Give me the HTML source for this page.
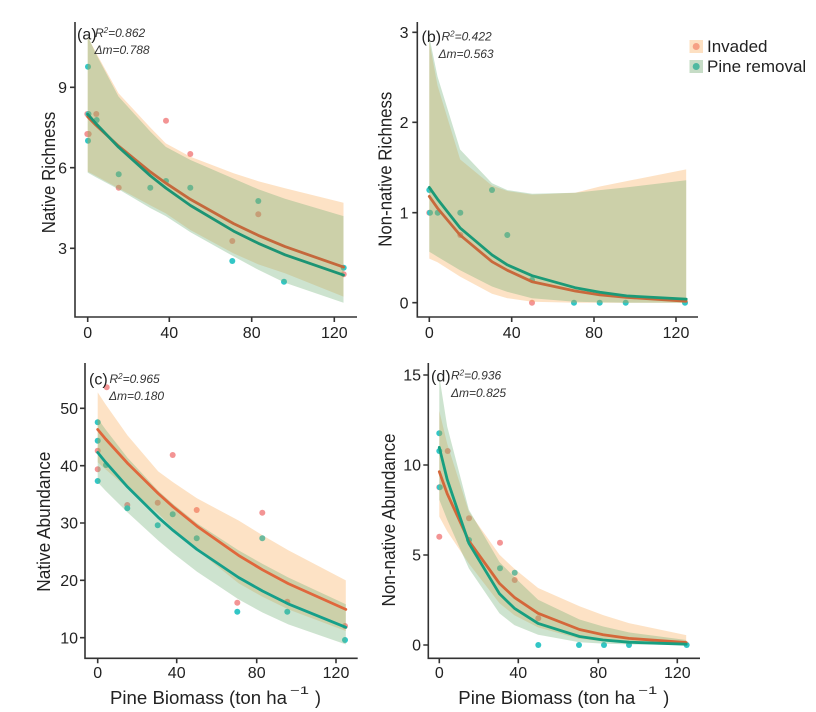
<!DOCTYPE html>
<html><head><meta charset="utf-8"><style>
html,body{margin:0;padding:0;background:#fff;}
svg{display:block;}
text{font-family:"Liberation Sans",Arial,sans-serif;fill:#222;}
.tk{font-size:16px;}
.it{font-size:12px;font-style:italic;fill:#333;}
.lab{font-size:16px;}
.ax{stroke:#333;stroke-width:1.6;fill:none;}
.pk{fill:rgb(248,158,63);fill-opacity:0.3;}
.gr{fill:rgb(109,174,114);fill-opacity:0.34;}
.r{fill:rgb(243,148,148);}
.c{fill:rgb(50,198,198);}
.lo{fill:none;stroke-width:2.8;stroke-linejoin:round;stroke-linecap:round;}
</style></head><body>
<svg width="816" height="712" viewBox="0 0 816 712" xmlns="http://www.w3.org/2000/svg">
<rect width="816" height="712" fill="#fff"/>

<!-- ===== Panel (a) ===== -->
<g>
<g>
<circle class="c" cx="88" cy="66.7" r="3"/>
<circle class="r" cx="87.3" cy="114" r="3"/>
<circle class="c" cx="88.5" cy="114" r="3"/>
<circle class="r" cx="96.3" cy="114" r="3"/>
<circle class="c" cx="96.7" cy="120" r="3"/>
<circle class="r" cx="87.3" cy="134" r="3"/>
<circle class="r" cx="88.7" cy="134" r="3"/>
<circle class="c" cx="88" cy="140.7" r="3"/>
<circle class="c" cx="118.7" cy="174.3" r="3"/>
<circle class="r" cx="118.7" cy="187.7" r="3"/>
<circle class="c" cx="150.3" cy="187.7" r="3"/>
<circle class="r" cx="166" cy="120.7" r="3"/>
<circle class="c" cx="166" cy="181" r="3"/>
<circle class="r" cx="190.3" cy="154" r="3"/>
<circle class="c" cx="190.3" cy="187.7" r="3"/>
<circle class="c" cx="258.3" cy="201" r="3"/>
<circle class="r" cx="258.3" cy="214.3" r="3"/>
<circle class="r" cx="232.3" cy="241" r="3"/>
<circle class="c" cx="232.3" cy="261" r="3"/>
<circle class="c" cx="284" cy="281.7" r="3"/>
<circle class="c" cx="343.7" cy="267.7" r="3"/>
<circle class="r" cx="343.7" cy="274.3" r="3"/>
</g>
<polygon class="pk" points="87.7,36.6 95.9,52.5 118.5,93.2 150.4,127.6 165.8,143.4 190.5,156.8 233.6,173.2 258.3,181.2 285.0,188.2 343.5,202.7 343.5,296.6 285.0,273.3 258.3,264.4 233.6,253.4 190.5,230.1 165.8,213.4 150.4,205.4 118.5,188.2 95.9,175.9 87.7,171.6"/>
<polygon class="gr" points="87.7,36.3 95.9,53.8 118.5,96.5 150.4,131.6 165.8,146.9 190.5,160.0 233.6,178.6 258.3,189.3 285.0,198.7 343.5,216.1 343.5,302.8 285.0,282.7 258.3,269.8 233.6,256.4 190.5,232.2 165.8,216.1 150.4,208.1 118.5,189.3 95.9,177.2 87.7,172.6"/>
<polyline class="lo" stroke="#c4683c" points="87.7,116.8 95.9,125.1 118.5,146.0 150.4,171.9 165.8,183.1 190.5,199.4 233.6,223.6 258.3,235.4 285.0,246.6 343.5,267.1"/>
<polyline class="lo" stroke="#1c9474" points="87.7,114.2 95.9,123.5 118.5,147.1 150.4,175.8 165.8,188.0 190.5,205.5 233.6,231.1 258.3,243.3 285.0,254.8 343.5,275.1"/>
<path class="ax" d="M75,22 V317 H357 M70,87.3 H75 M70,167.7 H75 M70,248.3 H75 M87.7,317 V322 M169.3,317 V322 M251.7,317 V322 M334.3,317 V322"/>
<text class="tk" x="67" y="93" text-anchor="end">9</text>
<text class="tk" x="67" y="173.4" text-anchor="end">6</text>
<text class="tk" x="67" y="254" text-anchor="end">3</text>
<text class="tk" x="87.7" y="338" text-anchor="middle">0</text>
<text class="tk" x="169.3" y="338" text-anchor="middle">40</text>
<text class="tk" x="251.7" y="338" text-anchor="middle">80</text>
<text class="tk" x="334.3" y="338" text-anchor="middle">120</text>
<text class="lab" x="77" y="39.5">(a)</text>
<text class="it" x="95" y="37">R<tspan font-size="8" dy="-4">2</tspan><tspan dy="4">=0.862</tspan></text>
<text class="it" x="94.5" y="54">Δm=0.788</text>
<text transform="translate(55,172.5) rotate(-90)" text-anchor="middle" font-size="18" textLength="121.6" lengthAdjust="spacingAndGlyphs">Native Richness</text>
</g>

<!-- ===== Panel (b) ===== -->
<g>
<g>
<circle class="c" cx="429.3" cy="190" r="3"/>
<circle class="r" cx="429.3" cy="212.7" r="3"/>
<circle class="c" cx="430" cy="212.7" r="3"/>
<circle class="c" cx="437.7" cy="212.7" r="3"/>
<circle class="c" cx="460.3" cy="212.7" r="3"/>
<circle class="c" cx="492" cy="190" r="3"/>
<circle class="c" cx="507.3" cy="235" r="3"/>
<circle class="r" cx="460.3" cy="235" r="3"/>
<circle class="c" cx="532" cy="280" r="3"/>
<circle class="r" cx="532" cy="302.7" r="3"/>
<circle class="c" cx="574" cy="302.7" r="3"/>
<circle class="c" cx="599.7" cy="302.7" r="3"/>
<circle class="c" cx="625.7" cy="302.7" r="3"/>
<circle class="c" cx="685" cy="302.7" r="3"/>
</g>
<polygon class="pk" points="429.3,41.4 437.5,85.5 460.1,159.4 492.0,185.6 507.4,191.0 532.1,194.6 575.2,192.8 599.9,186.5 626.6,181.1 686.2,169.4 686.2,302.7 626.6,302.7 599.9,302.7 575.2,302.7 532.1,301.8 507.4,298.2 492.0,293.7 460.1,276.6 437.5,262.2 429.3,258.6"/>
<polygon class="gr" points="429.3,36.9 437.5,76.5 460.1,149.5 492.0,183.3 507.4,190.1 532.1,193.7 575.2,192.8 599.9,190.1 626.6,187.4 686.2,180.2 686.2,302.7 626.6,302.7 599.9,302.2 575.2,301.8 532.1,298.2 507.4,291.9 492.0,286.5 460.1,270.3 437.5,256.7 429.3,251.7"/>
<polyline class="lo" stroke="#c8693c" points="429.3,196.4 437.5,208.1 460.1,235.1 492.0,261.7 507.4,270.3 532.1,281.7 575.2,291.0 599.9,294.9 626.6,297.3 686.2,301.2"/>
<polyline class="lo" stroke="#1b9a77" points="429.3,187.4 437.5,199.1 460.1,227.9 492.0,254.9 507.4,264.9 532.1,275.7 575.2,287.7 599.9,292.2 626.6,295.9 686.2,299.1"/>
<path class="ax" d="M417.3,22 V317 H698 M412.3,32.3 H417.3 M412.3,122.3 H417.3 M412.3,212.7 H417.3 M412.3,302.7 H417.3 M429.3,317 V322 M511.7,317 V322 M594,317 V322 M676,317 V322"/>
<text class="tk" x="408.5" y="38" text-anchor="end">3</text>
<text class="tk" x="408.5" y="128" text-anchor="end">2</text>
<text class="tk" x="408.5" y="218.4" text-anchor="end">1</text>
<text class="tk" x="408.5" y="308.4" text-anchor="end">0</text>
<text class="tk" x="429.3" y="338" text-anchor="middle">0</text>
<text class="tk" x="511.7" y="338" text-anchor="middle">40</text>
<text class="tk" x="594" y="338" text-anchor="middle">80</text>
<text class="tk" x="676" y="338" text-anchor="middle">120</text>
<text class="lab" x="421.5" y="42">(b)</text>
<text class="it" x="441.5" y="40.5">R<tspan font-size="8" dy="-4">2</tspan><tspan dy="4">=0.422</tspan></text>
<text class="it" x="438.5" y="58">Δm=0.563</text>
<text transform="translate(391.5,169.2) rotate(-90)" text-anchor="middle" font-size="18" textLength="155" lengthAdjust="spacingAndGlyphs">Non-native Richness</text>
</g>

<!-- Legend -->
<rect x="689.5" y="40" width="13.5" height="13" fill="#fde0c2"/>
<circle cx="696.2" cy="46.5" r="3.5" fill="#f6a084"/>
<rect x="689.5" y="60" width="13.5" height="13" fill="#c6dcc6"/>
<circle cx="696.2" cy="66.5" r="3.5" fill="#4fb8a0"/>
<text x="707" y="52" font-size="17">Invaded</text>
<text x="707" y="72" font-size="17">Pine removal</text>

<!-- ===== Panel (c) ===== -->
<g>
<g>
<circle class="r" cx="106.7" cy="387.3" r="3"/>
<circle class="c" cx="97.7" cy="422.3" r="3"/>
<circle class="c" cx="97.7" cy="440.7" r="3"/>
<circle class="r" cx="97.7" cy="450.7" r="3"/>
<circle class="r" cx="97.7" cy="469.3" r="3"/>
<circle class="c" cx="106" cy="465" r="3"/>
<circle class="c" cx="97.7" cy="481" r="3"/>
<circle class="r" cx="127.3" cy="505" r="3"/>
<circle class="c" cx="127.3" cy="508.3" r="3"/>
<circle class="r" cx="157.7" cy="502.7" r="3"/>
<circle class="c" cx="157.7" cy="525.3" r="3"/>
<circle class="r" cx="172.7" cy="455" r="3"/>
<circle class="c" cx="172.7" cy="514.3" r="3"/>
<circle class="r" cx="196.7" cy="510" r="3"/>
<circle class="c" cx="196.7" cy="538.3" r="3"/>
<circle class="r" cx="237.3" cy="602.7" r="3"/>
<circle class="c" cx="237.3" cy="611.7" r="3"/>
<circle class="r" cx="262.3" cy="512.7" r="3"/>
<circle class="c" cx="262.3" cy="538.3" r="3"/>
<circle class="r" cx="287.3" cy="601.7" r="3"/>
<circle class="c" cx="287.3" cy="611.7" r="3"/>
<circle class="r" cx="345" cy="626" r="3"/>
<circle class="c" cx="345" cy="640" r="3"/>
</g>
<polygon class="pk" points="97.7,392.4 105.6,404.4 127.5,435.4 158.2,471.4 173.1,482.3 196.9,498.3 238.6,520.5 262.5,535.3 288.3,550.3 345.8,580.4 345.8,631.0 288.3,609.4 262.5,596.8 238.6,583.3 196.9,550.1 173.1,528.4 158.2,513.5 127.5,488.1 105.6,469.4 97.7,462.2"/>
<polygon class="gr" points="97.7,418.5 105.6,429.5 127.5,457.7 158.2,490.7 173.1,504.0 196.9,523.2 238.6,550.4 262.5,563.9 288.3,577.5 345.8,604.2 345.8,644.4 288.3,624.4 262.5,612.5 238.6,599.4 196.9,571.6 173.1,553.1 158.2,540.5 127.5,512.4 105.6,490.8 97.7,482.2"/>
<polyline class="lo" stroke="#e0673c" points="97.7,429.5 105.6,439.0 127.5,463.2 158.2,493.5 173.1,506.8 196.9,526.1 238.6,555.4 262.5,569.8 288.3,583.6 345.8,609.4"/>
<polyline class="lo" stroke="#159f8a" points="97.7,452.5 105.6,462.2 127.5,486.9 158.2,517.3 173.1,530.4 196.9,549.4 238.6,577.5 262.5,591.0 288.3,603.9 345.8,627.3"/>
<path class="ax" d="M85,363 V658.3 H357.7 M80,408.3 H85 M80,465.7 H85 M80,523 H85 M80,580.3 H85 M80,637.7 H85 M97.7,658.3 V663.3 M176.7,658.3 V663.3 M256.7,658.3 V663.3 M336,658.3 V663.3"/>
<text class="tk" x="78" y="414" text-anchor="end">50</text>
<text class="tk" x="78" y="471.4" text-anchor="end">40</text>
<text class="tk" x="78" y="528.7" text-anchor="end">30</text>
<text class="tk" x="78" y="586" text-anchor="end">20</text>
<text class="tk" x="78" y="643.4" text-anchor="end">10</text>
<text class="tk" x="97.7" y="678" text-anchor="middle">0</text>
<text class="tk" x="176.7" y="678" text-anchor="middle">40</text>
<text class="tk" x="256.7" y="678" text-anchor="middle">80</text>
<text class="tk" x="336" y="678" text-anchor="middle">120</text>
<text class="lab" x="89" y="384.5">(c)</text>
<text class="it" x="109.5" y="383">R<tspan font-size="8" dy="-4">2</tspan><tspan dy="4">=0.965</tspan></text>
<text class="it" x="109" y="400">Δm=0.180</text>
<text transform="translate(50,521.7) rotate(-90)" text-anchor="middle" font-size="18" textLength="140" lengthAdjust="spacingAndGlyphs">Native Abundance</text>
<text x="110" y="704" font-size="18" textLength="177" lengthAdjust="spacingAndGlyphs">Pine Biomass (ton  ha</text>
<text x="290" y="694" font-size="11" textLength="19" lengthAdjust="spacingAndGlyphs">−1</text>
<text x="315" y="704" font-size="18">)</text>
</g>

<!-- ===== Panel (d) ===== -->
<g>
<g>
<circle class="c" cx="439.3" cy="433.3" r="3"/>
<circle class="c" cx="439.3" cy="451" r="3"/>
<circle class="r" cx="447.7" cy="451" r="3"/>
<circle class="r" cx="439.3" cy="487.3" r="3"/>
<circle class="c" cx="439.8" cy="487.3" r="3"/>
<circle class="r" cx="439.3" cy="536.7" r="3"/>
<circle class="r" cx="469" cy="518.3" r="3"/>
<circle class="c" cx="469" cy="540" r="3"/>
<circle class="r" cx="500" cy="542.7" r="3"/>
<circle class="c" cx="500" cy="568.3" r="3"/>
<circle class="c" cx="514.7" cy="572.7" r="3"/>
<circle class="r" cx="514.7" cy="580" r="3"/>
<circle class="r" cx="538.3" cy="618.3" r="3"/>
<circle class="c" cx="538.3" cy="645" r="3"/>
<circle class="c" cx="579" cy="645" r="3"/>
<circle class="c" cx="604" cy="645" r="3"/>
<circle class="c" cx="629" cy="645" r="3"/>
<circle class="c" cx="686.7" cy="645" r="3"/>
</g>
<polygon class="pk" points="439.3,411.0 447.2,443.8 468.9,511.8 499.5,554.7 514.4,568.8 538.1,588.0 579.5,606.2 603.2,615.1 628.9,623.1 686.2,635.1 686.2,644.4 628.9,643.0 603.2,641.4 579.5,638.8 538.1,627.4 514.4,615.2 499.5,603.2 468.9,563.6 447.2,531.2 439.3,516.6"/>
<polygon class="gr" points="439.3,376.3 447.2,426.5 468.9,509.8 499.5,562.1 514.4,577.1 538.1,599.7 579.5,619.5 603.2,626.5 628.9,632.4 686.2,640.0 686.2,644.9 628.9,644.4 603.2,643.6 579.5,642.2 538.1,634.7 514.4,625.1 499.5,613.4 468.9,568.5 447.2,519.6 439.3,499.7"/>
<polyline class="lo" stroke="#d4673a" points="439.3,471.7 447.2,493.7 468.9,540.9 499.5,583.5 514.4,597.4 538.1,613.3 579.5,629.5 603.2,634.7 628.9,638.4 686.2,642.5"/>
<polyline class="lo" stroke="#179f80" points="439.3,447.4 447.2,479.5 468.9,543.3 499.5,593.8 514.4,608.3 538.1,623.4 579.5,636.5 603.2,640.0 628.9,642.2 686.2,644.2"/>
<path class="ax" d="M428.3,363 V658.3 H700 M423.3,375 H428.3 M423.3,465 H428.3 M423.3,555 H428.3 M423.3,645 H428.3 M439.3,658.3 V663.3 M518.3,658.3 V663.3 M598.3,658.3 V663.3 M677.3,658.3 V663.3"/>
<text class="tk" x="421" y="380.7" text-anchor="end">15</text>
<text class="tk" x="421" y="470.7" text-anchor="end">10</text>
<text class="tk" x="421" y="560.7" text-anchor="end">5</text>
<text class="tk" x="421" y="650.7" text-anchor="end">0</text>
<text class="tk" x="439.3" y="678" text-anchor="middle">0</text>
<text class="tk" x="518.3" y="678" text-anchor="middle">40</text>
<text class="tk" x="598.3" y="678" text-anchor="middle">80</text>
<text class="tk" x="677.3" y="678" text-anchor="middle">120</text>
<text class="lab" x="431" y="381.5">(d)</text>
<text class="it" x="451" y="379.5">R<tspan font-size="8" dy="-4">2</tspan><tspan dy="4">=0.936</tspan></text>
<text class="it" x="451" y="397">Δm=0.825</text>
<text transform="translate(395,520) rotate(-90)" text-anchor="middle" font-size="18" textLength="173" lengthAdjust="spacingAndGlyphs">Non-native Abundance</text>
<text x="458.3" y="704" font-size="18" textLength="177" lengthAdjust="spacingAndGlyphs">Pine Biomass (ton  ha</text>
<text x="638.3" y="694" font-size="11" textLength="19" lengthAdjust="spacingAndGlyphs">−1</text>
<text x="663.3" y="704" font-size="18">)</text>
</g>
</svg>
</body></html>
